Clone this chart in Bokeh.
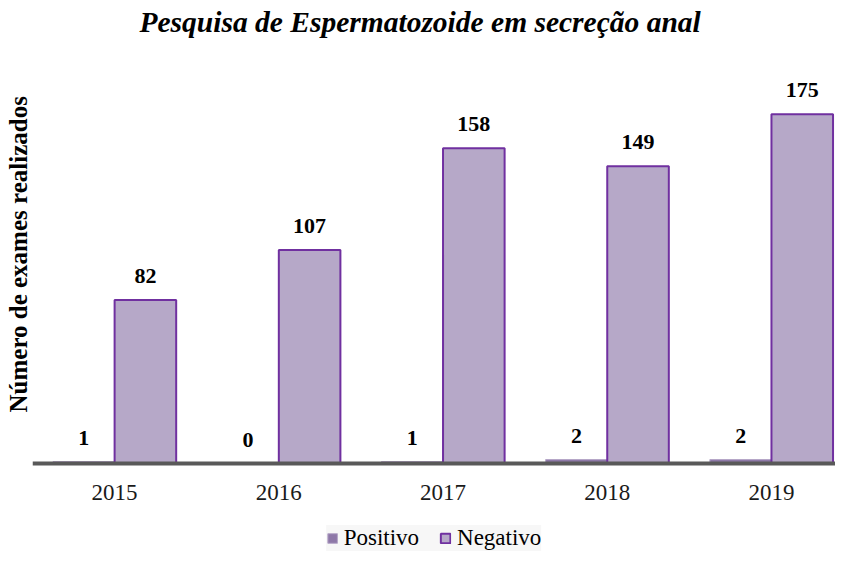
from bokeh.plotting import figure
from bokeh.models import ColumnDataSource, Range1d, Legend, LegendItem, Title, Span
from bokeh.transform import dodge
from bokeh.core.properties import value
from bokeh.embed import file_html
from bokeh.resources import INLINE

years = ["2015", "2016", "2017", "2018", "2019"]
positivo = [1, 0, 1, 2, 2]
negativo = [82, 107, 158, 149, 175]

xs = [i + 0.5 for i in range(len(years))]
src = ColumnDataSource(dict(
    x=xs, year=years, pos=positivo, neg=negativo,
    pos_t=[str(v) for v in positivo], neg_t=[str(v) for v in negativo],
))

FONT = "Liberation Serif"

p = figure(width=835, height=548, frame_width=803, frame_height=511,
           output_backend="svg", toolbar_location=None,
           x_range=Range1d(0, 4.89), y_range=Range1d(-44.1, 212),
           min_border_left=32, min_border_right=0, min_border_top=37, min_border_bottom=0)
p.outline_line_color = None
p.grid.visible = False
p.xaxis.visible = False
p.yaxis.visible = False
p.background_fill_color = "white"
p.border_fill_color = "white"

p.title = Title(text="Pesquisa de Espermatozoide em secreção anal", align="left", offset=107,
                text_font=FONT, text_font_size="29.5px", text_font_style="bold italic",
                text_color="black", standoff=6)

p.add_layout(Title(text="Número de exames realizados", align="left", offset=139,
                   text_font=FONT, text_font_size="25px", text_font_style="bold",
                   text_color="black", standoff=2), "left")

w = 0.375
r_pos = p.vbar(x=dodge("x", -w / 2, range=p.x_range), top="pos", width=w, source=src,
               fill_color="#8E78A8", line_color="#B6A7C8", line_width=1)
r_neg = p.vbar(x=dodge("x", w / 2, range=p.x_range), top="neg", width=w, source=src,
               fill_color="#B6A8C8", line_color="#7030A0", line_width=2)

for col, off, txt in (("pos", -w / 2, "pos_t"), ("neg", w / 2, "neg_t")):
    p.text(x=dodge("x", off, range=p.x_range), y=col, text=txt, source=src,
           text_font=value(FONT), text_font_size=value("22px"), text_font_style="bold",
           text_color="black", text_align="center", text_baseline="middle", y_offset=-24)

# baseline (category axis line) and category labels
p.add_layout(Span(location=0, dimension="width", line_color="#595959", line_width=4))
p.text(x="x", y=0, text="year", source=src, y_offset=29,
       text_font=value(FONT), text_font_size=value("23px"), text_color="#1a1a1a",
       text_align="center", text_baseline="middle")

legend = Legend(items=[LegendItem(label="Positivo", renderers=[r_pos]),
                       LegendItem(label="Negativo", renderers=[r_neg])],
                orientation="horizontal", location="bottom_center",
                label_text_font=FONT, label_text_font_size="23px", label_height=21,
                label_text_color="black",
                glyph_width=12, glyph_height=12, spacing=20, label_standoff=6,
                padding=6, margin=0, border_line_color=None,
                background_fill_color="#F7F7F7", background_fill_alpha=1)
p.add_layout(legend)

open("out.html", "w").write(file_html(p, INLINE))
